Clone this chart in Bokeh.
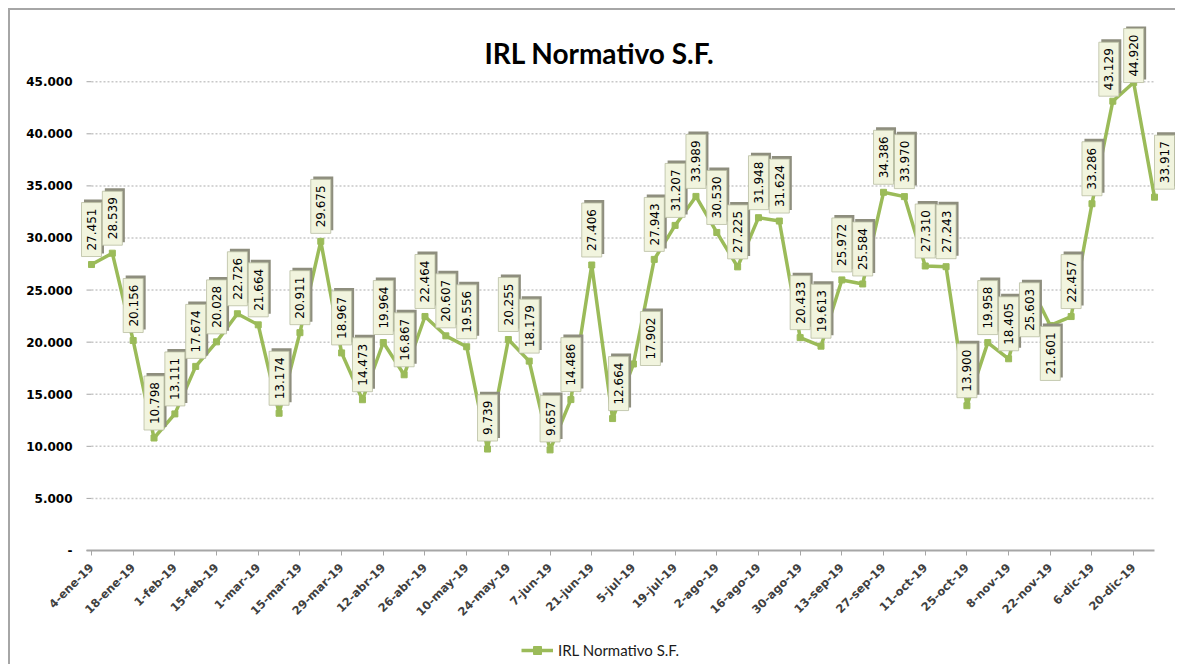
import math
from bokeh.plotting import figure
from bokeh.models import ColumnDataSource, FixedTicker, Legend, LegendItem, Label
from bokeh.core.properties import value
from bokeh.embed import file_html
from bokeh.resources import INLINE

# ---------------- data ----------------
dates = ["4-ene-19", "11-ene-19", "18-ene-19", "25-ene-19", "1-feb-19", "8-feb-19",
         "15-feb-19", "22-feb-19", "1-mar-19", "8-mar-19", "15-mar-19", "22-mar-19",
         "29-mar-19", "5-abr-19", "12-abr-19", "19-abr-19", "26-abr-19", "3-may-19",
         "10-may-19", "17-may-19", "24-may-19", "31-may-19", "7-jun-19", "14-jun-19",
         "21-jun-19", "28-jun-19", "5-jul-19", "12-jul-19", "19-jul-19", "26-jul-19",
         "2-ago-19", "9-ago-19", "16-ago-19", "23-ago-19", "30-ago-19", "6-sep-19",
         "13-sep-19", "20-sep-19", "27-sep-19", "4-oct-19", "11-oct-19", "18-oct-19",
         "25-oct-19", "1-nov-19", "8-nov-19", "15-nov-19", "22-nov-19", "29-nov-19",
         "6-dic-19", "13-dic-19", "20-dic-19", "27-dic-19"]
values = [27451, 28539, 20156, 10798, 13111, 17674, 20028, 22726, 21664, 13174,
          20911, 29675, 18967, 14473, 19964, 16867, 22464, 20607, 19556, 9739,
          20255, 18179, 9657, 14486, 27406, 12664, 17902, 27943, 31207, 33989,
          30530, 27225, 31948, 31624, 20433, 19613, 25972, 25584, 34386, 33970,
          27310, 27243, 13900, 19958, 18405, 25603, 21601, 22457, 33286, 43129,
          44920, 33917]
series_name = "IRL Normativo S.F."
title_text = "IRL Normativo S.F."
y_ticks = [0, 5000, 10000, 15000, 20000, 25000, 30000, 35000, 40000, 45000]
y_tick_labels = ["-", "5.000", "10.000", "15.000", "20.000", "25.000",
                 "30.000", "35.000", "40.000", "45.000"]

# ---------------- layout constants ----------------
N = len(values)
PX_X = 1063 / (N - 1)          # px per week
PX_Y = 524 / 50300             # px per unit
LEFT_PX = 81                   # room left of the first week for the value axis
X_START = -LEFT_PX / PX_X
FRAME_W = 1165
X_END = X_START + FRAME_W / PX_X
BELOW_PX = 114                 # room under the zero line for tick labels and legend
FRAME_H = 524 + BELOW_PX
Y_START = -BELOW_PX / PX_Y
Y_END = Y_START + FRAME_H / PX_Y

GREEN = "#9bbb59"
GRID = "#c8c8c8"
AXIS = "#a6a6a6"

# label placement (styling): default above with 8px gap
place = ["above"] * N
place[45] = "below"
place[46] = "below"
gap_px = [8.0] * N
gap_px[26] = -1.5
gap_px[49] = 5
gap_px[50] = 0
gap_px[45] = -1
gap_px[46] = 1
dx_px = [0.0] * N
dx_px[26] = 17
dx_px[25] = 6
dx_px[49] = -4
dx_px[51] = 10

FONT_PX = 12
DIGIT_W = 0.636 * FONT_PX
DOT_W = 0.318 * FONT_PX
BOX_W = 20

labels = [f"{v:,}".replace(",", ".") for v in values]
xs = list(range(N))

box_x, box_y, box_h, sh_x, sh_y = [], [], [], [], []
for i, (v, lab) in enumerate(zip(values, labels)):
    tw = sum(DOT_W if c == "." else DIGIT_W for c in lab)
    h = tw + 12
    if place[i] == "above":
        cy_px = gap_px[i] + h / 2
    else:
        cy_px = -(gap_px[i] + h / 2)
    cx = i + dx_px[i] / PX_X
    cy = v + cy_px / PX_Y
    box_x.append(cx)
    box_y.append(cy)
    box_h.append(h)
    sh_x.append(cx + 2.5 / PX_X)
    sh_y.append(cy + 3 / PX_Y)

src = ColumnDataSource(dict(x=xs, y=values))
lsrc = ColumnDataSource(dict(bx=box_x, by=box_y, bh=box_h, sx=sh_x, sy=sh_y, t=labels))

p = figure(frame_width=FRAME_W, frame_height=FRAME_H,
           x_range=(X_START, X_END), y_range=(Y_START, Y_END),
           output_backend="svg", toolbar_location=None, title=None,
           min_border_left=0, min_border_right=0,
           min_border_top=16, min_border_bottom=0,
           styles={"margin-left": "8px", "margin-top": "8px",
                   "border-top": "2px solid #a6a6a6", "border-left": "2px solid #a6a6a6"})

p.background_fill_color = "white"
p.border_fill_color = "white"
p.outline_line_color = None

# axes (drawn at fixed positions inside the plot area)
tick_len = 5 / PX_X
xa = p.xaxis[0]
xa.fixed_location = 0
xa.bounds = (-tick_len, N - 1)
xa.ticker = FixedTicker(ticks=list(range(0, N, 2)))
xa.major_label_overrides = {i: dates[i] for i in range(0, N, 2)}
xa.major_label_orientation = math.pi / 4
xa.major_label_text_font = "DejaVu Sans"
xa.major_label_text_font_style = "bold"
xa.major_label_text_font_size = "11.5px"
xa.major_label_text_color = "#404040"
xa.axis_line_color = AXIS
xa.axis_line_width = 2
xa.major_tick_line_color = AXIS
xa.major_tick_out = 5
xa.major_tick_in = 0
xa.minor_tick_line_color = None
xa.major_label_standoff = 10

ya = p.yaxis[0]
ya.fixed_location = -tick_len
ya.bounds = (0, y_ticks[-1])
ya.ticker = FixedTicker(ticks=y_ticks)
ya.major_label_overrides = {t: l for t, l in zip(y_ticks, y_tick_labels)}
ya.major_label_text_font = "DejaVu Sans"
ya.major_label_text_font_style = "bold"
ya.major_label_text_font_size = "12px"
ya.major_label_text_color = "black"
ya.axis_line_color = None
ya.major_tick_line_color = None
ya.major_tick_out = 0
ya.major_tick_in = 0
ya.minor_tick_line_color = None
ya.major_label_standoff = 14

p.xgrid.grid_line_color = None
p.ygrid.grid_line_color = None

# dotted horizontal gridlines and y tick marks, spanning the data extent
grid_vals = y_ticks[1:]
p.segment(x0=[0] * len(grid_vals), x1=[N - 1] * len(grid_vals), y0=grid_vals, y1=grid_vals,
          line_color=GRID, line_dash="2 2", line_width=1.5)
p.segment(x0=[-tick_len] * len(y_ticks), x1=[0] * len(y_ticks), y0=y_ticks, y1=y_ticks,
          line_color=AXIS, line_width=1)

# series
ln = p.line("x", "y", source=src, line_color=GREEN, line_width=3.5)
mk = p.scatter("x", "y", source=src, marker="square", size=6,
               fill_color=GREEN, line_color=GREEN)

# data labels (boxes + rotated text)
p.rect("sx", "sy", width=BOX_W, height="bh", width_units="screen", height_units="screen",
       source=lsrc, fill_color="#8e8e7e", line_color=None)
p.rect("bx", "by", width=BOX_W, height="bh", width_units="screen", height_units="screen",
       source=lsrc, fill_color="#f1f4de", line_color="#b9bea2", line_width=0.8)
p.text("bx", "by", text="t", source=lsrc, angle=math.pi / 2,
       text_align="center", text_baseline="middle",
       text_font=value("DejaVu Sans"), text_font_size=f"{FONT_PX}px", text_color="black")

# chart title, overlaid on the top of the plot area as in the original
title = Label(x=508 / PX_X, y=498 / PX_Y, text=title_text,
              text_font="Lato", text_font_style="bold", text_font_size="28px",
              text_align="center", text_baseline="alphabetic", text_color="black")
p.add_layout(title)

legend = Legend(items=[LegendItem(label=series_name, renderers=[ln, mk])],
                location=(511, 4), orientation="horizontal",
                padding=0, margin=0, border_line_color=None, background_fill_alpha=0,
                glyph_width=32, glyph_height=20, label_standoff=5,
                label_text_font="Lato", label_text_font_size="15px",
                label_text_color="#1a1a1a")
p.add_layout(legend, "center")

open("out.html", "w").write(file_html(p, INLINE))
